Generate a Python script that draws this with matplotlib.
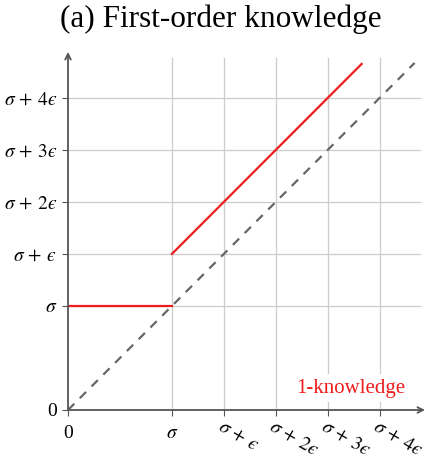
import matplotlib.pyplot as plt
import matplotlib.transforms as mtransforms
import numpy as np

plt.rcParams['font.family'] = ['Liberation Serif', 'DejaVu Serif']
plt.rcParams['mathtext.fontset'] = 'stix'

# units: eps = 1, sigma = 2 eps
SIGMA = 2.0
EPS = 1.0

# 1-knowledge curve (two pieces, jump at sigma)
low_x = [0.0, SIGMA]
low_y = [SIGMA, SIGMA]
high_x = [SIGMA, SIGMA + 3.65 * EPS]
high_y = [SIGMA + EPS, SIGMA + 4.65 * EPS]

# identity reference line
diag_x = [0.0, SIGMA + 4.67 * EPS]
diag_y = [0.0, SIGMA + 4.67 * EPS]

tick_vals = [0, SIGMA, SIGMA + EPS, SIGMA + 2 * EPS, SIGMA + 3 * EPS, SIGMA + 4 * EPS]
tick_labels = ['0', r'$\sigma$', '$\\sigma\\,+\\,\u03f5$', '$\\sigma\\,+\\,2\u03f5$',
               '$\\sigma\\,+\\,3\u03f5$', '$\\sigma\\,+\\,4\u03f5$']

XMAX = 6.87
YMAX = 6.88
GRID_END = 6.77

fig = plt.figure(figsize=(4.28, 4.58), dpi=100)
ax = fig.add_axes([68 / 428, 48 / 458, 357 / 428, 358 / 458])
ax.set_xlim(0, XMAX)
ax.set_ylim(0, YMAX)

grid_c = '#cccccc'
for v in tick_vals[1:]:
    ax.plot([v, v], [0, GRID_END], color=grid_c, lw=0.9, zorder=1)
    ax.plot([0, GRID_END], [v, v], color=grid_c, lw=0.9, zorder=1)

ax.plot(diag_x, diag_y, color='#666666', lw=1.6, ls=(0, (4, 3.5)), zorder=2)
ax.plot(low_x, low_y, color='#ee1c1c', lw=1.6, zorder=3)
ax.plot(high_x, high_y, color='#ee1c1c', lw=1.6, zorder=3)

ax.text(6.5, 0.42, '1-knowledge', color='#ee1c1c', fontsize=15, ha='right',
        va='center', zorder=4,
        bbox=dict(facecolor='white', edgecolor='none', pad=3))

for s in ax.spines.values():
    s.set_visible(False)
axis_c = '#555555'
ax.annotate('', xy=(XMAX, 0), xytext=(0, 0),
            arrowprops=dict(arrowstyle='->', color=axis_c, lw=1.3, shrinkA=0, shrinkB=0),
            annotation_clip=False)
ax.annotate('', xy=(0, YMAX), xytext=(0, 0),
            arrowprops=dict(arrowstyle='->', color=axis_c, lw=1.3, shrinkA=0, shrinkB=0),
            annotation_clip=False)

ax.set_xticks(tick_vals)
ax.set_yticks(tick_vals)
ax.set_yticklabels(tick_labels, fontsize=14)
ax.set_xticklabels(tick_labels, fontsize=14, rotation=-30, ha='left', va='center',
                   rotation_mode='anchor')
ax.tick_params(axis='both', color=axis_c, length=4, width=0.8)
ax.tick_params(axis='x', pad=7)
ax.tick_params(axis='y', pad=4)
shift = mtransforms.ScaledTranslation(-5 / 100, 0, fig.dpi_scale_trans)
xl = ax.get_xticklabels()
for lab in xl[2:]:
    lab.set_transform(lab.get_transform() + shift)
for lab in xl[:2]:
    lab.set_rotation(0)
    lab.set_ha('center')
    lab.set_va('top')
    lab.set_rotation_mode('default')

fig.text(0.515, 0.958, '(a) First-order knowledge', fontsize=22.5, ha='center', va='center')

fig.savefig('out.png', dpi=100)
